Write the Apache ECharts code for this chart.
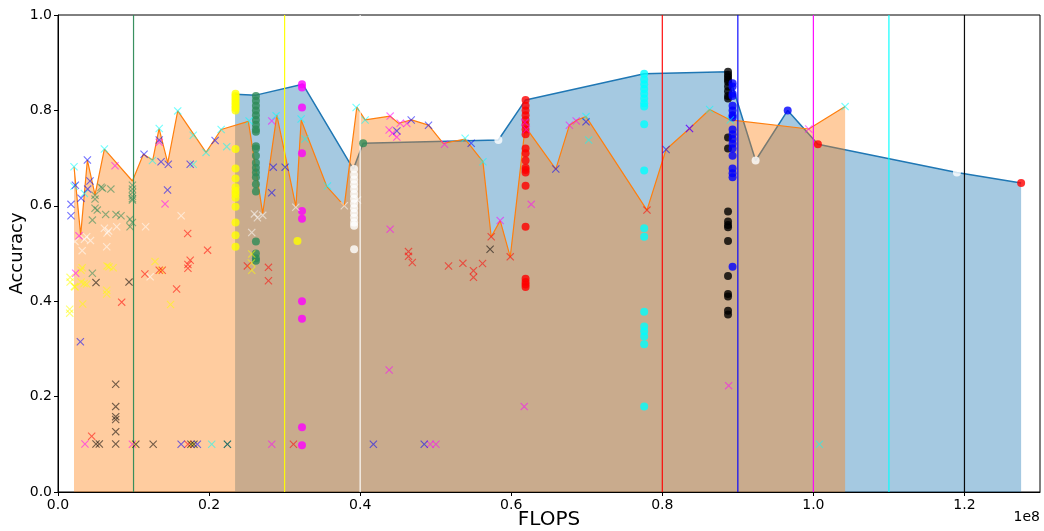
<!DOCTYPE html>
<html lang="en">
<head>
    <meta charset="UTF-8">
    <title>Accuracy vs FLOPS</title>
    <script src="https://cdn.jsdelivr.net/npm/echarts@6/dist/echarts.min.js"></script>
</head>
<body style="margin:0">
    <div id="main" style="width:1044px;height:531px;"></div>
    <script type="text/javascript">
        // x values are in units of 1e8 FLOPS (the axis offset label)
        const xTicks = ['0.0', '0.2', '0.4', '0.6', '0.8', '1.0', '1.2'];
        const yTicks = ['0.0', '0.2', '0.4', '0.6', '0.8', '1.0'];

        // frontier of the dot models (blue) and of the cross models (orange)
        const bluePareto = [[0.2344, 0.834], [0.262, 0.832], [0.324, 0.855], [0.391, 0.677], [0.404, 0.731],
            [0.583, 0.738], [0.619, 0.822], [0.776, 0.877], [0.887, 0.881], [0.9235, 0.695], [0.966, 0.800],
            [1.006, 0.729], [1.19, 0.670], [1.275, 0.648]];
        const orangePareto = [[0.0212, 0.682], [0.030, 0.539], [0.0389, 0.696], [0.049, 0.623], [0.0614, 0.719],
            [0.0985, 0.652], [0.113, 0.708], [0.1254, 0.696], [0.1338, 0.762], [0.1453, 0.690], [0.1585, 0.799],
            [0.196, 0.712], [0.216, 0.760], [0.252, 0.777], [0.271, 0.584], [0.2897, 0.790], [0.315, 0.598],
            [0.3219, 0.780], [0.356, 0.640], [0.379, 0.600], [0.3956, 0.807], [0.4066, 0.780], [0.4397, 0.788],
            [0.4508, 0.773], [0.468, 0.780], [0.4905, 0.769], [0.510, 0.731], [0.539, 0.740], [0.5625, 0.6925],
            [0.5735, 0.535], [0.5854, 0.569], [0.5987, 0.493], [0.6185, 0.766], [0.659, 0.677], [0.677, 0.769],
            [0.687, 0.780], [0.699, 0.787], [0.7797, 0.591], [0.805, 0.718], [0.836, 0.762], [0.8627, 0.802],
            [0.890, 0.780], [0.9938, 0.761], [1.042, 0.808]];

        // vertical reference lines
        const vlineX = [0.1, 0.3, 0.4, 0.8, 0.9, 1.0, 1.1, 1.2];
        const vlineColor = ['#2e8b57', '#ffff00', '#ffffff', '#ff0000', '#0000ff', '#ff00ff', '#00ffff', '#000000'];

        // dot models
        const yellowDots = [[0.235, 0.835], [0.235, 0.83], [0.235, 0.825], [0.235, 0.82], [0.235, 0.815], [0.235, 0.81],
            [0.235, 0.805], [0.235, 0.80], [0.235, 0.719], [0.235, 0.678], [0.235, 0.657], [0.235, 0.639], [0.235, 0.631],
            [0.235, 0.625], [0.235, 0.617], [0.235, 0.598], [0.235, 0.565], [0.235, 0.538], [0.235, 0.514], [0.317, 0.526]];
        const greenDots = [[0.262, 0.83], [0.262, 0.82], [0.262, 0.81], [0.262, 0.80], [0.262, 0.79], [0.262, 0.78],
            [0.262, 0.77], [0.262, 0.76], [0.262, 0.755], [0.262, 0.725], [0.262, 0.72], [0.262, 0.705], [0.262, 0.69],
            [0.262, 0.68], [0.262, 0.67], [0.262, 0.66], [0.262, 0.645], [0.262, 0.63], [0.262, 0.525], [0.262, 0.50],
            [0.262, 0.49], [0.262, 0.485], [0.404, 0.731]];
        const magentaDots = [[0.323, 0.855], [0.323, 0.848], [0.323, 0.806], [0.323, 0.710], [0.323, 0.589],
            [0.323, 0.573], [0.323, 0.400], [0.323, 0.363], [0.323, 0.136], [0.323, 0.098]];
        const whiteDots = [[0.392, 0.677], [0.392, 0.665], [0.392, 0.655], [0.392, 0.645], [0.392, 0.635], [0.392, 0.625],
            [0.392, 0.615], [0.392, 0.605], [0.392, 0.595], [0.392, 0.585], [0.392, 0.575], [0.392, 0.565], [0.392, 0.558],
            [0.392, 0.509], [0.583, 0.738], [0.9235, 0.695], [1.19, 0.670]];
        const redDots = [[0.619, 0.822], [0.619, 0.81], [0.619, 0.80], [0.619, 0.79], [0.619, 0.78], [0.619, 0.77],
            [0.619, 0.76], [0.619, 0.75], [0.619, 0.72], [0.619, 0.71], [0.619, 0.695], [0.619, 0.68], [0.619, 0.675],
            [0.619, 0.67], [0.619, 0.642], [0.619, 0.556], [0.619, 0.447], [0.619, 0.44], [0.619, 0.435], [0.619, 0.43],
            [1.006, 0.729], [1.275, 0.648]];
        const cyanDots = [[0.776, 0.877], [0.776, 0.865], [0.776, 0.855], [0.776, 0.845], [0.776, 0.835], [0.776, 0.825],
            [0.776, 0.815], [0.776, 0.808], [0.776, 0.771], [0.776, 0.674], [0.776, 0.553], [0.776, 0.535], [0.776, 0.378],
            [0.776, 0.347], [0.776, 0.337], [0.776, 0.326], [0.776, 0.31], [0.776, 0.179]];
        const blackDots = [[0.887, 0.881], [0.887, 0.875], [0.887, 0.87], [0.887, 0.865], [0.887, 0.86], [0.887, 0.85],
            [0.887, 0.84], [0.887, 0.83], [0.887, 0.825], [0.887, 0.743], [0.887, 0.72], [0.887, 0.588], [0.887, 0.567],
            [0.887, 0.56], [0.887, 0.555], [0.887, 0.526], [0.887, 0.453], [0.887, 0.415], [0.887, 0.41], [0.887, 0.38],
            [0.887, 0.372]];
        const blueDots = [[0.893, 0.857], [0.893, 0.85], [0.893, 0.835], [0.893, 0.83], [0.893, 0.81], [0.893, 0.80],
            [0.893, 0.79], [0.893, 0.785], [0.893, 0.76], [0.893, 0.75], [0.893, 0.74], [0.893, 0.73], [0.893, 0.72],
            [0.893, 0.705], [0.893, 0.678], [0.893, 0.668], [0.893, 0.66], [0.893, 0.472], [0.966, 0.800]];

        // cross models
        const yellowCross = [[0.016, 0.45], [0.016, 0.44], [0.0217, 0.431], [0.0155, 0.383], [0.0155, 0.375], [0.0225, 0.43],
            [0.0305, 0.44], [0.0345, 0.437], [0.032, 0.47], [0.0305, 0.465], [0.038, 0.436], [0.0327, 0.394], [0.065, 0.474],
            [0.0675, 0.472], [0.073, 0.47], [0.0645, 0.423], [0.0645, 0.415], [0.1285, 0.483], [0.136, 0.465],
            [0.149, 0.393], [0.2565, 0.499], [0.256, 0.48], [0.2565, 0.465], [0.178, 0.1], [0.1, 0.1]];
        const greenCross = [[0.049, 0.614], [0.049, 0.622], [0.057, 0.639], [0.059, 0.637], [0.070, 0.635], [0.049, 0.595],
            [0.052, 0.591], [0.0455, 0.570], [0.0631, 0.582], [0.0768, 0.582], [0.0834, 0.579], [0.0954, 0.572],
            [0.0985, 0.643], [0.0985, 0.635], [0.0985, 0.628], [0.0985, 0.62], [0.0985, 0.615], [0.0985, 0.612],
            [0.0954, 0.556], [0.0985, 0.565], [0.0455, 0.4585]];
        const whiteCross = [[0.0614, 0.553], [0.065, 0.543], [0.067, 0.547], [0.0777, 0.556], [0.038, 0.535], [0.035, 0.53],
            [0.043, 0.527], [0.0225, 0.525], [0.032, 0.506], [0.0645, 0.514], [0.116, 0.556], [0.163, 0.579], [0.122, 0.451],
            [0.26, 0.583], [0.264, 0.575], [0.271, 0.58], [0.2565, 0.544], [0.3148, 0.597], [0.379, 0.600], [0.3965, 0.612]];
        const redCross = [[0.1717, 0.542], [0.198, 0.507], [0.175, 0.486], [0.172, 0.477], [0.172, 0.469], [0.115, 0.457],
            [0.134, 0.465], [0.138, 0.465], [0.157, 0.4256], [0.2507, 0.474], [0.2786, 0.471], [0.2786, 0.443],
            [0.0843, 0.398], [0.0446, 0.117], [0.172, 0.1], [0.3117, 0.1], [0.464, 0.504], [0.464, 0.494], [0.469, 0.481],
            [0.517, 0.4738], [0.536, 0.4794], [0.550, 0.464], [0.550, 0.450], [0.562, 0.479], [0.5735, 0.535],
            [0.5987, 0.493], [0.7797, 0.591]];
        const magentaCross = [[0.0278, 0.537], [0.0755, 0.684], [0.1417, 0.604], [0.134, 0.733], [0.0234, 0.4585],
            [0.0357, 0.1006], [0.0985, 0.1], [0.283, 0.778], [0.283, 0.1], [0.4397, 0.788], [0.4384, 0.759], [0.4428, 0.752],
            [0.4486, 0.744], [0.453, 0.773], [0.4618, 0.7725], [0.5117, 0.729], [0.5854, 0.569], [0.4397, 0.551],
            [0.4384, 0.2558], [0.6172, 0.179], [0.4927, 0.1], [0.5003, 0.1], [0.6265, 0.603], [0.618, 0.775], [0.62, 0.76],
            [0.677, 0.769], [0.686, 0.778], [0.836, 0.762], [0.8878, 0.223], [0.9938, 0.761]];
        const blueCross = [[0.023, 0.643], [0.0172, 0.603], [0.0172, 0.579], [0.0305, 0.616], [0.0389, 0.696], [0.0424, 0.652],
            [0.0393, 0.635], [0.0296, 0.315], [0.134, 0.738], [0.1139, 0.708], [0.1364, 0.6925], [0.146, 0.687],
            [0.145, 0.633], [0.175, 0.687], [0.208, 0.737], [0.163, 0.1], [0.1845, 0.1], [0.285, 0.681], [0.3007, 0.681],
            [0.283, 0.6275], [0.4486, 0.757], [0.4676, 0.780], [0.4905, 0.769], [0.547, 0.731], [0.4175, 0.1],
            [0.4848, 0.1], [0.659, 0.677], [0.699, 0.776], [0.805, 0.718], [0.836, 0.762]];
        const cyanCross = [[0.0212, 0.682], [0.0212, 0.641], [0.0349, 0.626], [0.0614, 0.719], [0.125, 0.695], [0.134, 0.762],
            [0.1585, 0.799], [0.179, 0.748], [0.179, 0.687], [0.196, 0.712], [0.216, 0.760], [0.2234, 0.724], [0.2035, 0.1],
            [0.2243, 0.1], [0.253, 0.778], [0.2887, 0.789], [0.3219, 0.782], [0.327, 0.740], [0.3567, 0.6415],
            [0.3947, 0.806], [0.4066, 0.780], [0.539, 0.7415], [0.5625, 0.6925], [0.699, 0.787], [0.7025, 0.738],
            [0.8627, 0.802], [0.890, 0.780], [1.042, 0.808], [1.008, 0.1]];
        const blackCross = [[0.0503, 0.439], [0.094, 0.44], [0.0764, 0.2258], [0.0764, 0.179], [0.0764, 0.158],
            [0.0764, 0.152], [0.0764, 0.1265], [0.0764, 0.1006], [0.0503, 0.1006], [0.0547, 0.1006], [0.103, 0.1],
            [0.126, 0.1], [0.176, 0.1], [0.180, 0.1], [0.2243, 0.1], [0.572, 0.5088]];

        const dotGroups = [
            [yellowDots, '#ffff00'], [greenDots, '#2e8b57'], [magentaDots, '#ff00ff'], [whiteDots, '#ffffff'],
            [redDots, '#ff0000'], [cyanDots, '#00ffff'], [blackDots, '#000000'], [blueDots, '#0000ff']
        ];
        const crossGroups = [
            [yellowCross, '#ffff00'], [greenCross, '#2e8b57'], [magentaCross, '#ff00ff'], [whiteCross, '#ffffff'],
            [redCross, '#ff0000'], [cyanCross, '#00ffff'], [blackCross, '#000000'], [blueCross, '#0000ff']
        ];

        const crossPath = 'path://M0,1L1,0L5,4L9,0L10,1L6,5L10,9L9,10L5,6L1,10L0,9L4,5Z';
        const font = 'DejaVu Sans';

        let myChart = echarts.init(document.getElementById('main'));

        let series = [];
        // filled frontiers: blue first, orange drawn over it
        series.push({
            type: 'line', data: bluePareto, showSymbol: false, z: 1, silent: true,
            lineStyle: { color: '#1f77b4', width: 1.5 },
            areaStyle: { color: '#1f77b4', opacity: 0.4 }
        });
        series.push({
            type: 'line', data: orangePareto, showSymbol: false, z: 2, silent: true,
            lineStyle: { color: '#ff7f0e', width: 1.2 },
            areaStyle: { color: '#ff7f0e', opacity: 0.4 }
        });
        vlineX.forEach((x, i) => {
            series.push({
                type: 'line', data: [[x, 0], [x, 1]], showSymbol: false, z: 3, silent: true,
                lineStyle: { color: vlineColor[i], width: 1.2, opacity: 0.95 }
            });
        });
        dotGroups.forEach(([pts, c]) => {
            series.push({
                type: 'scatter', data: pts, symbol: 'circle', symbolSize: 8, z: 4, silent: true,
                itemStyle: { color: c }
            });
        });
        crossGroups.forEach(([pts, c]) => {
            series.push({
                type: 'scatter', data: pts, symbol: crossPath, symbolSize: 8, z: 5, silent: true,
                itemStyle: { color: c, opacity: 0.55 }
            });
        });

        let options = {
            animation: false,
            grid: {
                left: 58, right: 4, top: 15, bottom: 39, outerBoundsMode: 'none',
                show: true, borderColor: '#000', borderWidth: 1
            },
            xAxis: {
                type: 'value', min: 0, max: 1.3, interval: 0.2, z: 10,
                name: 'FLOPS', nameLocation: 'middle', nameGap: 18, nameMoveOverlap: false,
                nameTextStyle: { fontFamily: font, fontSize: 20, color: '#000' },
                axisLine: { lineStyle: { color: '#000' } },
                axisTick: { length: 4, lineStyle: { color: '#000' } },
                splitLine: { show: false },
                axisLabel: {
                    showMaxLabel: false, fontFamily: font, fontSize: 14, color: '#000', margin: 6,
                    formatter: v => xTicks[Math.round(v / 0.2)] || ''
                }
            },
            yAxis: {
                type: 'value', min: 0, max: 1, interval: 0.2, z: 10,
                name: 'Accuracy', nameLocation: 'middle', nameGap: 32, nameMoveOverlap: false,
                nameTextStyle: { fontFamily: font, fontSize: 18, color: '#000' },
                axisLine: { show: true, lineStyle: { color: '#000' } },
                axisTick: { show: true, length: 4, lineStyle: { color: '#000' } },
                splitLine: { show: false },
                axisLabel: {
                    fontFamily: font, fontSize: 14, color: '#000', margin: 6,
                    formatter: v => yTicks[Math.round(v / 0.2)] || ''
                }
            },
            graphic: [{
                type: 'text', right: 4, top: 510,
                style: { text: '1e8', fontFamily: font, fontSize: 14, fill: '#000' }
            }],
            series: series
        };

        myChart.setOption(options);
    </script>
</body>
</html>
